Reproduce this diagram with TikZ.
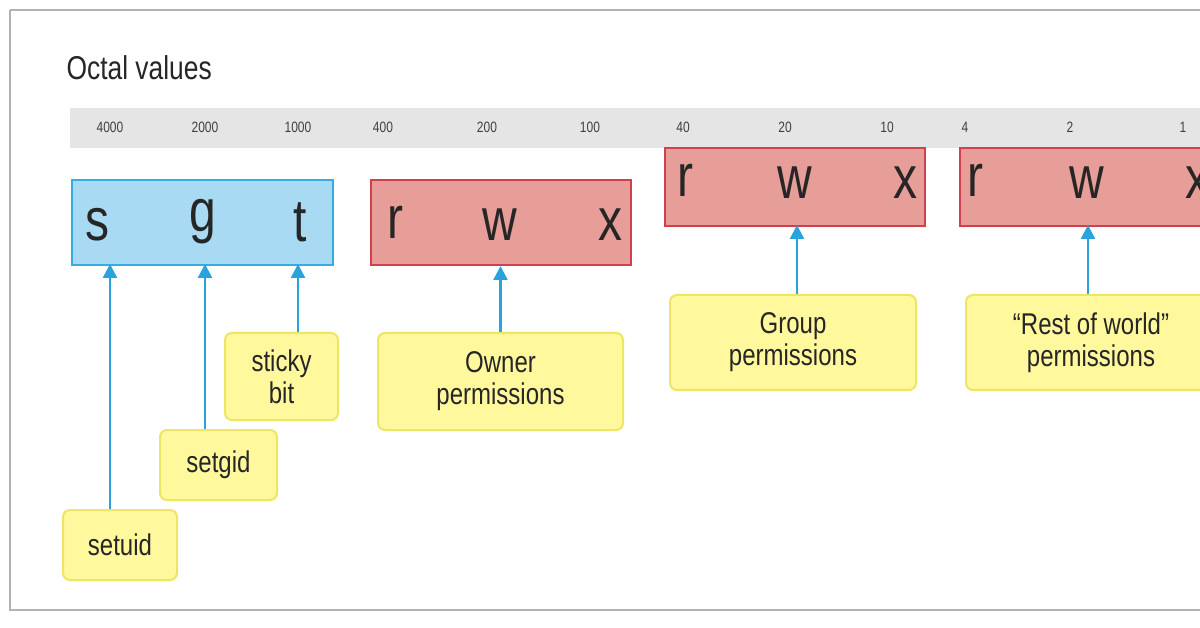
\documentclass[tikz,border=0pt]{standalone}
\usepackage{fontspec}
\setmainfont{Liberation Sans}[FakeStretch=0.8]
\usetikzlibrary{arrows.meta}
\definecolor{bluef}{HTML}{A9DAF3}\definecolor{bluel}{HTML}{34AEE2}
\definecolor{redf}{HTML}{E89E98}\definecolor{redl}{HTML}{D2404E}
\definecolor{yelf}{HTML}{FFF89C}\definecolor{yell}{HTML}{EEE564}
\definecolor{arr}{HTML}{2AA3DC}
\begin{document}
\begin{tikzpicture}[x=1pt,y=-1pt,
 oct/.style={font=\fontsize{15}{15}\selectfont,text=black!75},
 big/.style={font=\fontsize{60}{60}\selectfont,text=black!85},
 lab/.style={draw=yell,fill=yelf,line width=2pt,rounded corners=7pt,align=center,font=\fontsize{30}{32}\selectfont,text=black!85,inner sep=0pt},
 ar/.style={draw=arr,line width=2.5pt,-{Triangle[length=14pt,width=14pt]}}]
\useasboundingbox (0,0) rectangle (1200,628);
\fill[white] (0,0) rectangle (1200,628);
\draw[black!30,line width=1.2pt] (10,10) -- (1205,10) (10,10) -- (10,610) -- (1205,610);
\node[anchor=west,font=\fontsize{33}{33}\selectfont,text=black!85] (title) at (63,68) {Octal values};
\fill[black!10] (70,108) rectangle (1200,148);
\foreach \x/\t [count=\i] in {110/4000,205/2000,298/1000,383/400,487/200,590/100,683/40,785/20,887/10,965/4,1070/2,1183/1}
  \node[oct] (o\i) at (\x,127) {\t};
\node[draw=bluel,fill=bluef,line width=2pt,minimum width=261pt,minimum height=85pt,inner sep=0] (sb) at (202.5,222.5) {};
\node[draw=redl,fill=redf,line width=2pt,minimum width=260pt,minimum height=85pt,inner sep=0] (ob) at (501,222.5) {};
\node[draw=redl,fill=redf,line width=2pt,minimum width=260pt,minimum height=78pt,inner sep=0] (gb) at (795,187) {};
\node[draw=redl,fill=redf,line width=2pt,minimum width=260pt,minimum height=78pt,inner sep=0] (wb) at (1090,187) {};
\node[big] (s) at (97,225) {s};\node[big] (g) at (203,222) {g};\node[big] (t) at (300,222) {t};
\node[big] (r1) at (395,222) {r};\node[big] (w1) at (500,225) {w};\node[big] (x1) at (610,225) {x};
\node[big] (r2) at (685,180) {r};\node[big] (w2) at (795,183) {w};\node[big] (x2) at (905,183) {x};
\node[big] (r3) at (975,180) {r};\node[big] (w3) at (1087,183) {w};\node[big] (x3) at (1197,183) {x};
\node[lab,minimum width=113pt,minimum height=87pt] (sticky) at (281.5,376.5) {sticky\\bit};
\node[lab,minimum width=117pt,minimum height=70pt] (setgid) at (218.5,465) {setgid};
\node[lab,minimum width=114pt,minimum height=70pt] (setuid) at (120,545) {setuid};
\node[lab,minimum width=245pt,minimum height=97pt] (owner) at (500.5,381.5) {Owner\\permissions};
\node[lab,minimum width=246pt,minimum height=95pt] (group) at (793,342.5) {Group\\permissions};
\node[lab,minimum width=250pt,minimum height=95pt] (world) at (1091,342.5) {“Rest of world”\\permissions};
\draw[ar] (setuid.north -| 110,0) -- (110,264);
\draw[ar] (setgid.north -| 205,0) -- (205,264);
\draw[ar] (sticky.north -| 298,0) -- (298,264);
\draw[ar] (owner.north) -- (owner.north |- ob.south);
\draw[ar] (group.north -| 797,0) -- (797,225);
\draw[ar] (world.north -| 1088,0) -- (1088,225);
\end{tikzpicture}
\end{document}
